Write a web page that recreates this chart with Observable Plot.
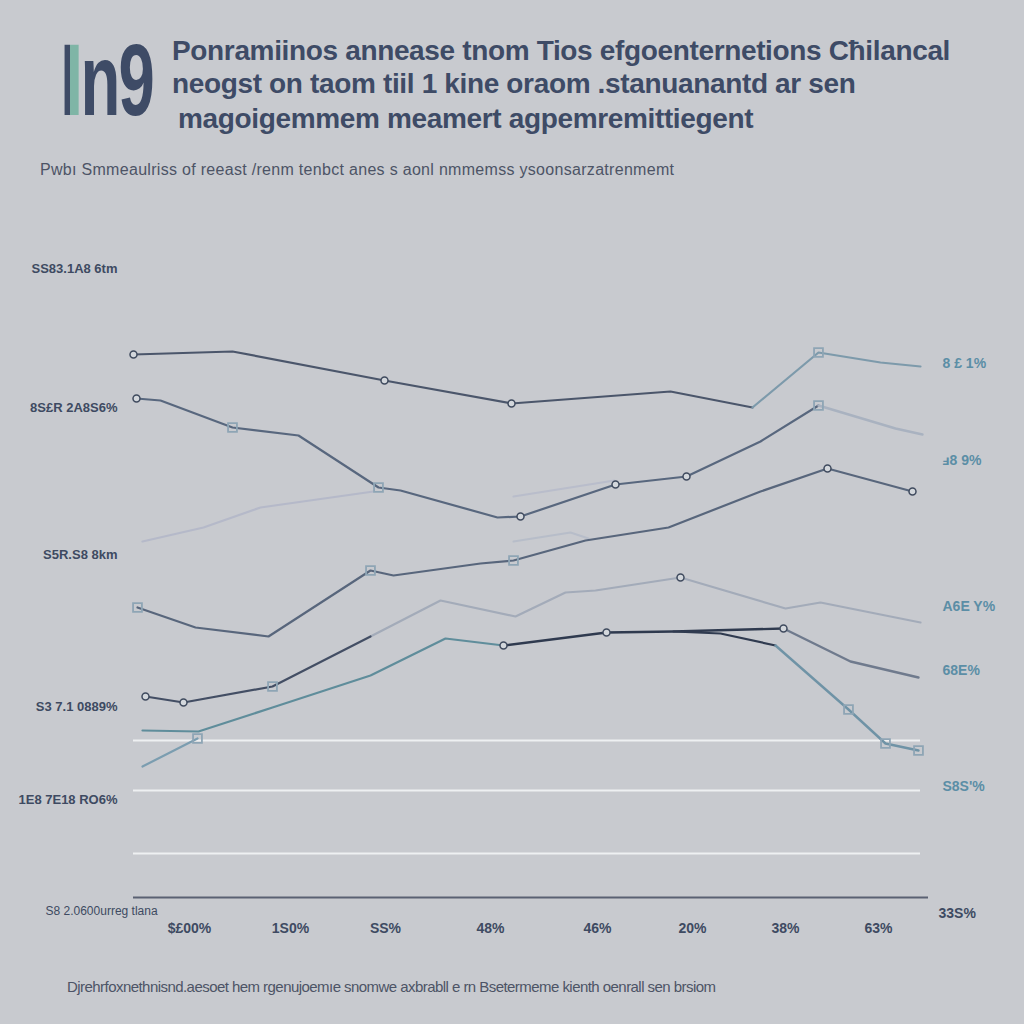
<!DOCTYPE html>
<html>
<head>
<meta charset="utf-8">
<script src="https://cdn.jsdelivr.net/npm/d3@7"></script>
<script src="https://cdn.jsdelivr.net/npm/@observablehq/plot@0.6"></script>
<style>
  html, body { margin: 0; padding: 0; width: 1024px; height: 1024px; background: #c8cacf; overflow: hidden; }
  body { position: relative; font-family: "Liberation Sans", Arial, sans-serif; }
  #logo { position: absolute; left: 58px; top: 22px; font-size: 102px; font-weight: bold; color: #3e4b66; transform: scaleX(0.64); transform-origin: left top; letter-spacing: -3px; }
  #logo .i { display: inline-block; transform: scaleX(1.5); transform-origin: left; margin-right: 10px; background: linear-gradient(90deg, #3e4b66 50%, #7fb5a6 50%); -webkit-background-clip: text; background-clip: text; color: transparent; }
  .title { position: absolute; font-size: 28px; font-weight: bold; color: #3e4b66; letter-spacing: -0.35px; white-space: nowrap; }
  #subtitle { position: absolute; left: 40px; top: 161px; font-size: 16px; color: #4d5466; white-space: nowrap; letter-spacing: 0.3px; }
  #caption { position: absolute; left: 67px; top: 978px; font-size: 15px; color: #4d5466; white-space: nowrap; letter-spacing: -0.55px; }
  #chart { position: absolute; left: 0; top: 230px; }
</style>
</head>
<body>
<div id="logo"><span class="i">I</span>n9</div>
<div class="title" style="left:172px; top:35px;">Ponramiinos annease tnom Tios efgoenternetions Cħilancal</div>
<div class="title" style="left:172px; top:68px;">neogst on taom tiil 1 kine oraom .stanuanantd ar sen</div>
<div class="title" style="left:178px; top:103px;">magoigemmem meamert agpemremittiegent</div>
<div id="subtitle">Pwbı Smmeaulriss of reeast /renm tenbct anes s aonl nmmemss ysoonsarzatrenmemt</div>
<div id="caption">Djrehrfoxnethnisnd.aesoet hem rgenujoemıe snomwe axbrabll e rn Bsetermeme kienth oenrall sen brsiom</div>
<div id="chart"></div>
<script>
// ---- data (x: position along period, y: index value) ----
const sTopDark   = [[0,543],[99,546],[251,517],[378,494],[537,506],[619,490]];
const sTopTeal   = [[619,490],[685,545],[747,535],[787,531]];
const sSecond    = [[3,499],[27,497],[99,470],[165,462],[245,410],[267,407],[364,380],[387,381],[482,413],[553,421],[627,456],[685,492]];
const sSecondEnd = [[685,492],[762,469],[789,463]];
const sFaintA    = [[9,356],[70,370],[127,390],[240,406]];
const sFaintB    = [[380,401],[481,417]];
const sFourth    = [[4,290],[62,270],[135,261],[237,327],[260,322],[347,334],[380,337],[452,357],[535,370],[627,406],[694,429],[779,406]];
const sFourthFnt = [[380,356],[437,365],[455,359]];
const sFifthA    = [[12,201],[50,195],[139,211],[237,261]];
const sFifthB    = [[237,261],[307,297],[382,281],[432,305],[462,307],[547,320],[652,289],[687,295],[787,275]];
const sNavyA     = [[370,252],[473,265],[540,266],[650,269]];
const sNavyB     = [[650,269],[717,236],[785,220]];
const sTeal      = [[9,167],[65,166],[139,190],[237,222],[312,259],[370,252]];
const sTealLow   = [[9,131],[64,159]];
const sDropA     = [[540,266],[587,264],[642,252]];
const sDropB     = [[642,252],[715,188],[752,154],[785,147]];

const circleMarks = [[0,543],[251,517],[378,494],[387,381],[482,413],[553,421],[50,195],[370,252],[473,265],[547,320],[650,269],[694,429],[779,406],[3,499],[12,201]];
const squareMarks = [[99,470],[245,410],[685,545],[685,492],[237,327],[380,337],[4,290],[139,211],[64,159],[715,188],[752,154],[785,147]];

const gridValues = [157, 107, 44];
const baseValue = 0;

const leftTicks  = [629, 490, 343, 191, 98];
const leftLabels = ["SS83.1A8 6tm", "8S£R 2A8S6%", "S5R.S8 8km", "S3 7.1 0889%", "1E8 7E18 RO6%"];
const bottomLeftLabel = {v: -14, t: "S8 2.0600urreg tlana"};

const xTicks  = [56, 157, 252, 357, 464, 559, 652, 745];
const xLabels = ["$£00%", "1S0%", "SS%", "48%", "46%", "20%", "38%", "63%"];

const rightTicks  = [534, 437, 291, 227, 111];
const rightLabels = ["8 £ 1%", "ⅎ8 9%", "A6E Y%", "68E%", "S8S'%"];
const rightBottom = {v: -16, t: "33S%"};

// ---- build ----
const series = [
  [sFaintA, "#b5b9c9", 2.2], [sFaintB, "#b9bdcb", 2.2], [sFourthFnt, "#b7bdc9", 2],
  [sFifthB, "#a3abb9", 2.2], [sTopDark, "#4b566b", 2.2], [sTopTeal, "#7d9aab", 2.2],
  [sSecond, "#58677e", 2.2], [sSecondEnd, "#a9b2c0", 2.4], [sFourth, "#58667c", 2.2],
  [sFifthA, "#434e64", 2.2], [sTeal, "#5f8d9b", 2.2], [sTealLow, "#7b9db0", 2.2],
  [sNavyA, "#2f3a4f", 2.4], [sNavyB, "#6f7a8d", 2.4], [sDropA, "#303b50", 2.2], [sDropB, "#6f93a6", 2.4]
];
const lineMarks = series.map(([pts, c, w]) => Plot.line(pts, {x: d => d[0], y: d => d[1], stroke: c, strokeWidth: w, curve: "linear"}));

const chart = Plot.plot({
  width: 1024,
  height: 721,
  marginLeft: 133,
  marginRight: 104,
  marginTop: 17,
  marginBottom: 40,
  style: {background: "transparent", fontFamily: "Liberation Sans, Arial, sans-serif"},
  x: {domain: [0, 787]},
  y: {domain: [-14, 650]},
  marks: [
    Plot.ruleY(gridValues, {stroke: "#eef0f2", strokeWidth: 1.8}),
    Plot.ruleY([baseValue], {x1: 0, x2: 795, stroke: "#5a6173", strokeWidth: 2.2}),
    ...lineMarks,
    Plot.dot(circleMarks, {x: d => d[0], y: d => d[1], r: 3.5, fill: "#d3d7dc", stroke: "#3f4a5e", strokeWidth: 1.5}),
    Plot.dot(squareMarks, {x: d => d[0], y: d => d[1], symbol: "square", r: 5, fill: "none", stroke: "#8ea5b5", strokeWidth: 1.8}),
    Plot.axisY({ticks: leftTicks, tickFormat: (d, i) => leftLabels[i], tickSize: 0, tickPadding: 16, fontSize: 13, fill: "#3e4a62", fontWeight: 600, label: null}),
    Plot.axisX({ticks: xTicks, tickFormat: (d, i) => xLabels[i], tickSize: 0, tickPadding: 12, fontSize: 14, fill: "#3e4a62", fontWeight: 600, label: null}),
    Plot.text([bottomLeftLabel], {y: "v", text: "t", frameAnchor: "left", dx: -88, textAnchor: "start", fontSize: 12, fill: "#3e4a62"}),
    Plot.text(rightTicks.map((v, i) => ({v, t: rightLabels[i]})), {y: "v", text: "t", frameAnchor: "right", dx: 22, textAnchor: "start", fontSize: 14, fill: "#5b8ea6", fontWeight: 600}),
    Plot.text([rightBottom], {y: "v", text: "t", frameAnchor: "right", dx: 18, textAnchor: "start", fontSize: 14, fill: "#3e4a62", fontWeight: 600})
  ]
});
document.getElementById("chart").appendChild(chart);
</script>
</body>
</html>
